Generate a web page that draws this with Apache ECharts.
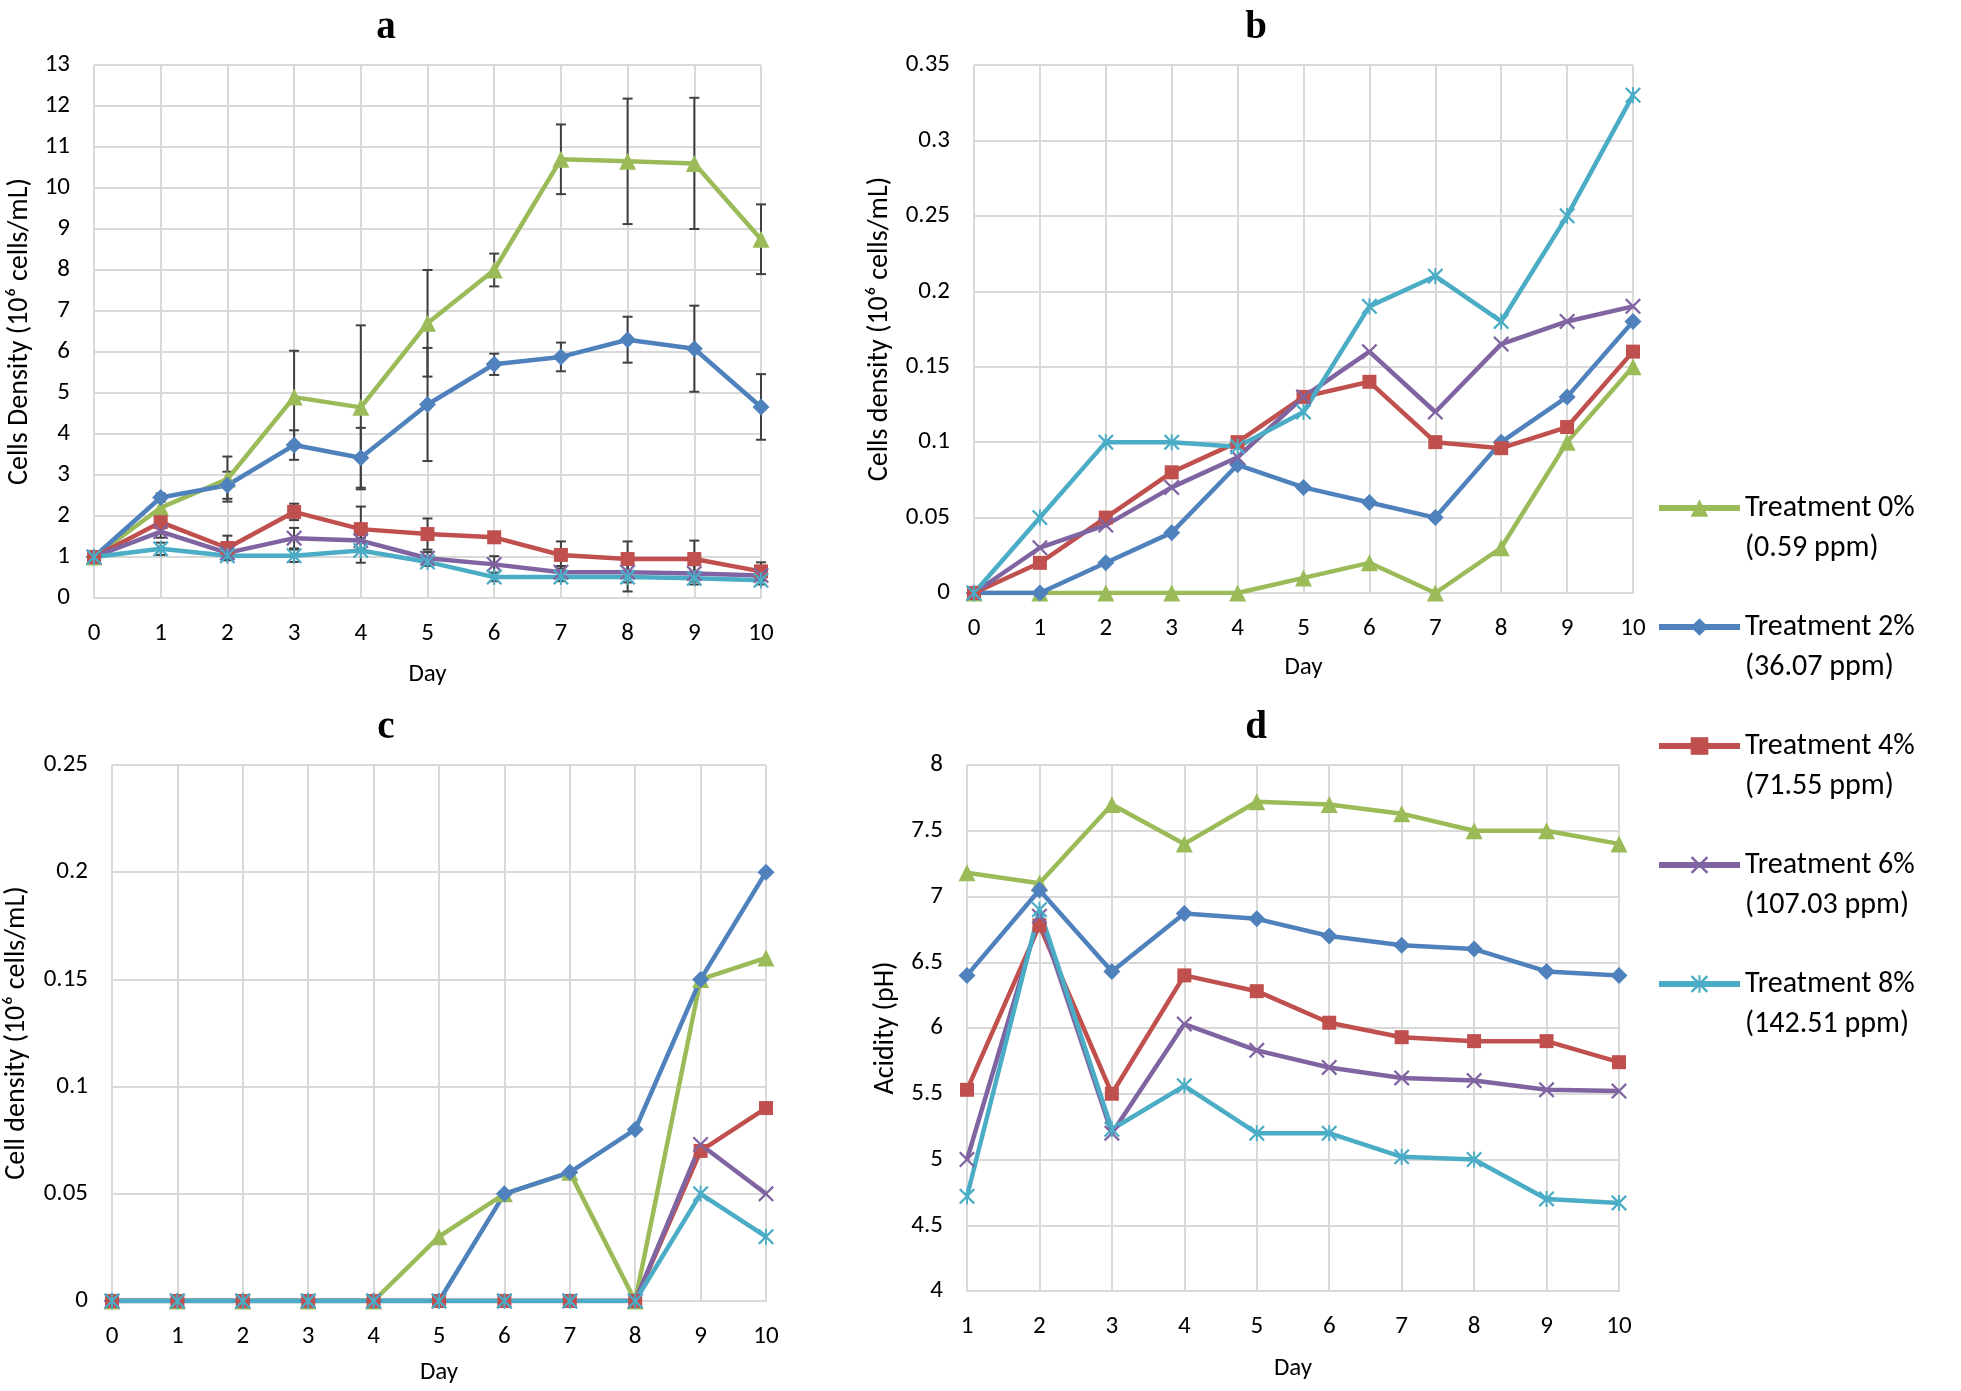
<!DOCTYPE html>
<html><head><meta charset="utf-8">
<script src="https://cdn.jsdelivr.net/npm/echarts@6/dist/echarts.min.js"></script>
<style>html,body{margin:0;padding:0;background:#fff}#c{width:1961px;height:1391px}</style>
</head><body><div id="c"></div>
<script>
// ---- data ----
const days = [0,1,2,3,4,5,6,7,8,9,10];
const daysD = [1,2,3,4,5,6,7,8,9,10];
const legendNames = ['Treatment 0%','Treatment 2%','Treatment 4%','Treatment 6%','Treatment 8%'];
const ppmLabels = ['(0.59 ppm)','(36.07 ppm)','(71.55 ppm)','(107.03 ppm)','(142.51 ppm)'];

// panel a: cells density
const a0 = [1, 2.2, 2.9, 4.9, 4.65, 6.7, 8.0, 10.7, 10.65, 10.6, 8.75];
const a2 = [1, 2.45, 2.75, 3.73, 3.42, 4.72, 5.7, 5.88, 6.3, 6.08, 4.66];
const a4 = [1, 1.85, 1.22, 2.1, 1.68, 1.56, 1.48, 1.05, 0.95, 0.95, 0.65];
const a6 = [1, 1.62, 1.1, 1.46, 1.4, 0.97, 0.82, 0.63, 0.63, 0.6, 0.55];
const a8 = [1, 1.2, 1.03, 1.03, 1.16, 0.88, 0.51, 0.51, 0.51, 0.48, 0.43];
const e0 = [0.05, 0.2, 0.55, 1.13, 2.0, 1.3, 0.4, 0.85, 1.53, 1.6, 0.85];
const e2 = [0.05, 0.1, 0.33, 0.36, 0.73, 1.38, 0.26, 0.35, 0.56, 1.05, 0.8];
const e4 = [0.05, 0.15, 0.3, 0.2, 0.55, 0.38, 0.1, 0.33, 0.43, 0.45, 0.22];
const e6 = [0.05, 0.15, 0.15, 0.25, 0.2, 0.15, 0.2, 0.15, 0.25, 0.2, 0.1];
const e8 = [0.05, 0.15, 0.1, 0.15, 0.3, 0.1, 0.1, 0.1, 0.35, 0.15, 0.1];

// panel b
const b0 = [0, 0, 0, 0, 0, 0.01, 0.02, 0, 0.03, 0.1, 0.15];
const b2 = [0, 0, 0.02, 0.04, 0.085, 0.07, 0.06, 0.05, 0.1, 0.13, 0.18];
const b4 = [0, 0.02, 0.05, 0.08, 0.1, 0.13, 0.14, 0.1, 0.096, 0.11, 0.16];
const b6 = [0, 0.03, 0.045, 0.07, 0.09, 0.13, 0.16, 0.12, 0.165, 0.18, 0.19];
const b8 = [0, 0.05, 0.1, 0.1, 0.097, 0.12, 0.19, 0.21, 0.18, 0.25, 0.33];

// panel c
const c0 = [0, 0, 0, 0, 0, 0.03, 0.05, 0.06, 0, 0.15, 0.16];
const c2 = [0, 0, 0, 0, 0, 0, 0.05, 0.06, 0.08, 0.15, 0.2];
const c4 = [0, 0, 0, 0, 0, 0, 0, 0, 0, 0.07, 0.09];
const c6 = [0, 0, 0, 0, 0, 0, 0, 0, 0, 0.073, 0.05];
const c8 = [0, 0, 0, 0, 0, 0, 0, 0, 0, 0.05, 0.03];

// panel d: pH
const d0 = [7.18, 7.1, 7.7, 7.4, 7.72, 7.7, 7.63, 7.5, 7.5, 7.4];
const d2 = [6.4, 7.05, 6.43, 6.87, 6.83, 6.7, 6.63, 6.6, 6.43, 6.4];
const d4 = [5.53, 6.78, 5.5, 6.4, 6.28, 6.04, 5.93, 5.9, 5.9, 5.74];
const d6 = [5.0, 6.85, 5.2, 6.03, 5.83, 5.7, 5.62, 5.6, 5.53, 5.52];
const d8 = [4.72, 6.9, 5.23, 5.56, 5.2, 5.2, 5.02, 5.0, 4.7, 4.67];

// ---- styles ----
const colors = ['#9BBB59', '#4F81BD', '#C0504D', '#8064A2', '#4BACC6'];
const X_PATH = 'path://M1,0L5,4L9,0L10,1L6,5L10,9L9,10L5,6L1,10L0,9L4,5L0,1Z';
const STAR_PATH = 'path://M1,0L5,4L9,0L10,1L6,5L10,9L9,10L5,6L1,10L0,9L4,5L0,1Z M4.4,0L5.6,0L5.6,10L4.4,10Z';
const symbols = ['triangle', 'diamond', 'rect', X_PATH, STAR_PATH];
const symSizes = [17, 17, 14, 16, 16];
const FONT = 'Carlito, Calibri, Lato, "Open Sans", sans-serif';
const gridColor = '#d9d9d9';
const FS = 25;
const FS_NAME_Y = 28;

const grids = [
  {left: 94, top: 65, width: 667, height: 533},
  {left: 974, top: 65, width: 659, height: 528},
  {left: 112, top: 765, width: 654, height: 536},
  {left: 967, top: 765, width: 652, height: 526}
];

function xAx(gi, min, max, gap) {
  return {
    type: 'value', gridIndex: gi, min: min, max: max, interval: 1,
    name: 'Day', nameLocation: 'middle', nameGap: gap,
    nameTextStyle: {fontFamily: FONT, fontSize: FS, color: '#000'},
    axisLine: {show: true, lineStyle: {color: gridColor, width: 2}},
    axisTick: {show: false},
    axisLabel: {fontFamily: FONT, fontSize: FS, color: '#000', margin: 23},
    splitLine: {show: true, lineStyle: {color: gridColor, width: 2}}
  };
}
function yAx(gi, min, max, interval, name, gap) {
  return {
    type: 'value', gridIndex: gi, min: min, max: max, interval: interval,
    name: name, nameLocation: 'middle', nameGap: gap,
    nameTextStyle: {fontFamily: FONT, fontSize: FS_NAME_Y, color: '#000'},
    axisLine: {show: false},
    axisTick: {show: false},
    axisLabel: {fontFamily: FONT, fontSize: FS, color: '#000', margin: 24,
      formatter: v => String(+v.toFixed(2))},
    splitLine: {show: true, lineStyle: {color: gridColor, width: 2}}
  };
}

const series = [];
function addLines(gi, xs, arrs) {
  arrs.forEach((arr, k) => {
    series.push({
      name: legendNames[k], type: 'line', xAxisIndex: gi, yAxisIndex: gi,
      data: xs.map((x, i) => [x, arr[i]]),
      symbol: symbols[k], symbolSize: symSizes[k], symbolKeepAspect: true,
      showAllSymbol: true,
      lineStyle: {color: colors[k], width: 4.5},
      itemStyle: {color: colors[k], borderWidth: 0},
      z: 3, animation: false
    });
  });
}
function addErr(gi, xs, vals, errs, k) {
  series.push({
    name: 'err' + k, type: 'custom', xAxisIndex: gi, yAxisIndex: gi,
    data: xs.map((x, i) => [x, vals[i], errs[i]]),
    encode: {x: 0, y: 1}, z: 2, animation: false, silent: true,
    renderItem: function (params, api) {
      const x = api.value(0), y = api.value(1), e = api.value(2);
      const t = api.coord([x, y + e]), b = api.coord([x, y - e]);
      const w = 5, st = {stroke: '#404040', lineWidth: 2};
      return {type: 'group', children: [
        {type: 'line', shape: {x1: t[0], y1: t[1], x2: b[0], y2: b[1]}, style: st},
        {type: 'line', shape: {x1: t[0] - w, y1: t[1], x2: t[0] + w, y2: t[1]}, style: st},
        {type: 'line', shape: {x1: b[0] - w, y1: b[1], x2: b[0] + w, y2: b[1]}, style: st}
      ]};
    }
  });
}

[[a0, e0], [a2, e2], [a4, e4], [a6, e6], [a8, e8]].forEach((p, k) => addErr(0, days, p[0], p[1], k));
addLines(0, days, [a0, a2, a4, a6, a8]);
addLines(1, days, [b0, b2, b4, b6, b8]);
addLines(2, days, [c0, c2, c4, c6, c8]);
addLines(3, daysD, [d0, d2, d4, d6, d8]);

const titleStyle = {fontFamily: '"Liberation Serif", "Times New Roman", serif', fontSize: 39, fontWeight: 'bold', color: '#000'};
const option = {
  backgroundColor: '#fff',
  animation: false,
  title: [
    {text: 'a', left: 381, top: 3, textAlign: 'center', textStyle: titleStyle},
    {text: 'b', left: 1251, top: 3, textAlign: 'center', textStyle: titleStyle},
    {text: 'c', left: 381, top: 703, textAlign: 'center', textStyle: titleStyle},
    {text: 'd', left: 1251, top: 703, textAlign: 'center', textStyle: titleStyle}
  ],
  grid: grids,
  xAxis: [xAx(0, 0, 10, 64), xAx(1, 0, 10, 62), xAx(2, 0, 10, 59), xAx(3, 1, 10, 65)],
  yAxis: [
    yAx(0, 0, 13, 1, 'Cells Density (10\u2076 cells/mL)', 60),
    yAx(1, 0, 0.35, 0.05, 'Cells density (10\u2076 cells/mL)', 80),
    yAx(2, 0, 0.25, 0.05, 'Cell density (10\u2076 cells/mL)', 81),
    yAx(3, 4, 8, 0.5, 'Acidity (pH)', 67)
  ],
  legend: {
    data: legendNames, orient: 'vertical', left: 1656, top: 448, padding: 0,
    itemWidth: 81, itemHeight: 22, itemGap: -1, selectedMode: false,
    lineStyle: {width: 6},
    formatter: name => ' \n' + name + '\n' + ppmLabels[legendNames.indexOf(name)],
    textStyle: {fontFamily: FONT, fontSize: 30, color: '#000', lineHeight: 40}
  },
  series: series
};
const chart = echarts.init(document.getElementById('c'), null, {renderer: 'canvas'});
chart.setOption(option);
</script></body></html>
